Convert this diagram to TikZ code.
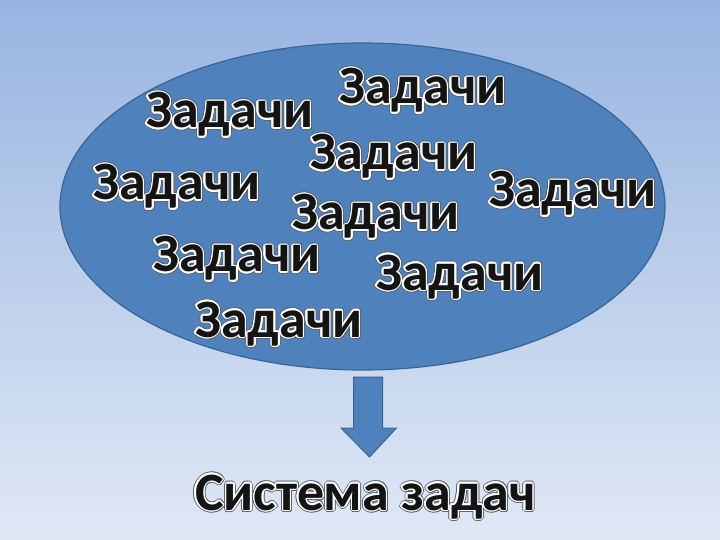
\documentclass[tikz,border=0pt]{standalone}
\usepackage{fontspec}
\setmainfont{Carlito}
\usetikzlibrary{shapes.geometric,calc}
\definecolor{bgtop}{HTML}{97B4E1}
\definecolor{bgbot}{HTML}{E0E8F5}
\definecolor{blobfill}{HTML}{4F81BD}
\definecolor{blobline}{HTML}{3A6496}
\definecolor{ringdark}{HTML}{24344A}
\newcommand\haloword[1]{%
 \leavevmode\hbox{%
  \foreach \a in {0,22.5,...,337.5}{%
   \pgfmathsetlengthmacro\dx{2.4*cos(\a)}%
   \pgfmathsetlengthmacro\dy{2.4*sin(\a)}%
   \rlap{\kern\dx\raisebox{\dy}{\textcolor{ringdark!75}{#1}}}%
  }%
  \foreach \a in {0,22.5,...,337.5}{%
   \pgfmathsetlengthmacro\dx{1.4*cos(\a)}%
   \pgfmathsetlengthmacro\dy{1.4*sin(\a)}%
   \rlap{\kern\dx\raisebox{\dy}{\textcolor{white}{#1}}}%
  }%
  \textcolor{black!92}{#1}}}
\tikzset{
  word/.style={anchor=base west, inner sep=0pt, font=\bfseries\fontsize{54bp}{64bp}\selectfont},
  blob/.style={ellipse, draw=blobline, line width=1.2bp, fill=blobfill, inner sep=0pt},
  blockarrow/.style={fill=blobfill, draw=blobline, line width=1bp, line join=miter}
}
\begin{document}
\begin{tikzpicture}[x=1bp,y=-1bp]
\useasboundingbox (0,0) rectangle (720,540);
\shade[top color=bgtop, bottom color=bgbot] (0,0) rectangle (720,540);
\node[blob, minimum width=605bp, minimum height=327bp] (cloud) at (362.5,206.5) {};
\node[word] (w1) at (339,104) {\haloword{Задачи}};
\node[word] (w2) at (146,128) {\haloword{Задачи}};
\node[word] (w3) at (310,170) {\haloword{Задачи}};
\node[word] (w4) at (93,200) {\haloword{Задачи}};
\node[word] (w5) at (489,207) {\haloword{Задачи}};
\node[word] (w6) at (292,230) {\haloword{Задачи}};
\node[word] (w7) at (153,272) {\haloword{Задачи}};
\node[word] (w8) at (376,290) {\haloword{Задачи}};
\node[word] (w9) at (195,337) {\haloword{Задачи}};
\node[word] (sys) at (195,510) {\haloword{Система задач}};
\coordinate (atop) at (368,377);
\draw[blockarrow] ($(atop)+(-14.5,0)$) -- ($(atop)+(14.5,0)$) -- ($(atop)+(14.5,51)$)
  -- ($(atop)+(28.5,51)$) -- ($(atop)+(1.5,80)$) -- ($(atop)+(-27,51)$)
  -- ($(atop)+(-14.5,51)$) -- cycle;
\end{tikzpicture}
\end{document}
